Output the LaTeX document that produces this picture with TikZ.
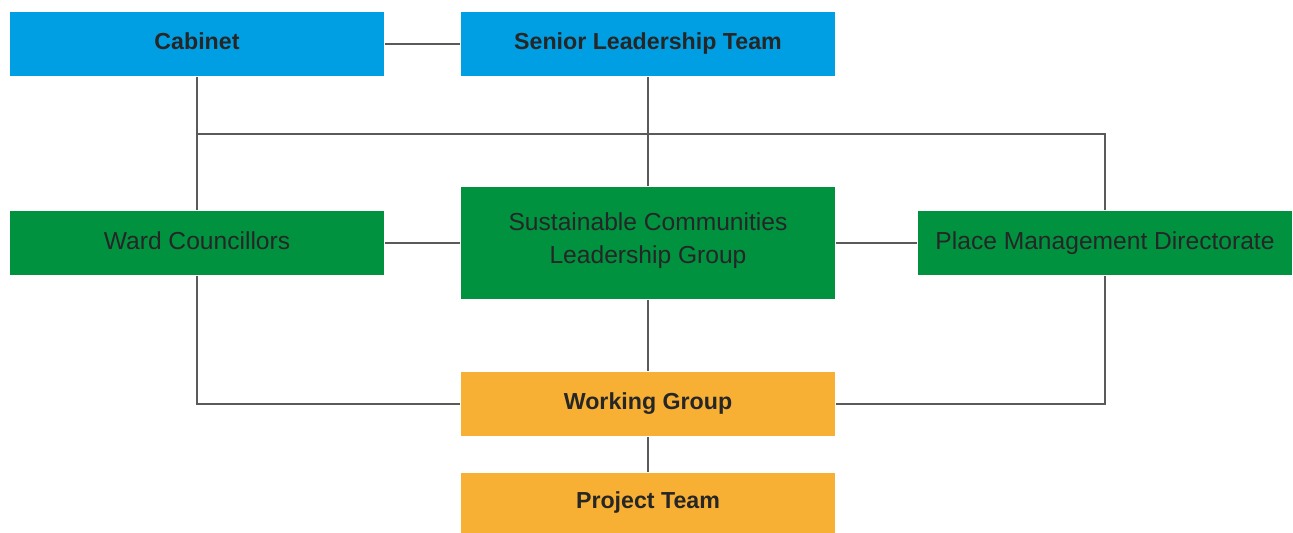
\documentclass[tikz,border=0pt]{standalone}
\usepackage{fontspec}
\setmainfont{Liberation Sans}
\usepackage{tikz}
\usetikzlibrary{positioning}

\definecolor{topblue}{HTML}{009EE2}
\definecolor{midgreen}{HTML}{00923F}
\definecolor{lowamber}{HTML}{F7B033}
\definecolor{inkgrey}{HTML}{262626}
\definecolor{linegrey}{HTML}{5A5A5A}

\begin{document}
\begin{tikzpicture} [x=0.02cm, y=-0.02cm, line width=1.1pt,
                    lohko/.style={rectangle,minimum width=7.48cm,minimum height=1.28cm,
                                  inner sep=0pt,text=inkgrey,align=center,
                                  execute at begin node=\strut},
                    ylin/.style={lohko,fill=topblue,font=\fontsize{13.2}{16}\selectfont\bfseries},
                    keski/.style={lohko,fill=midgreen,font=\fontsize{14}{19}\selectfont},
                    ala/.style={lohko,fill=lowamber,font=\fontsize{13.2}{16}\selectfont\bfseries}]

\useasboundingbox[fill=white] (0,0) rectangle (1293,533);

\node[ylin] (cab) at (197,44) {Cabinet};
\node[ylin] (slt) at (648,44) {Senior Leadership Team};
\node[keski] (ward) at (197,243) {Ward Councillors};
\node[keski, minimum height=2.24cm] (sclg) at (648,243) {Sustainable Communities\\\strut Leadership Group};
\node[keski] (pmd) at (1105,243) {Place Management Directorate};
\node[ala] (wg) at (648,404) {Working Group};
\node[ala, minimum height=1.2cm] (pt) at (648,503) {Project Team};

\coordinate (bus) at (648,134);

 \path[draw=linegrey]
    (cab) edge (slt)
    (cab) edge (ward)
    (slt) edge (sclg)
    (ward) edge (sclg)
    (sclg) edge (pmd)
    (sclg) edge (wg)
    (wg) edge (pt);
 \draw[linegrey] (ward.north |- bus) -| (pmd.north);
 \draw[linegrey] (ward.south) |- (wg.west);
 \draw[linegrey] (pmd.south) |- (wg.east);
\end{tikzpicture}
\end{document}
